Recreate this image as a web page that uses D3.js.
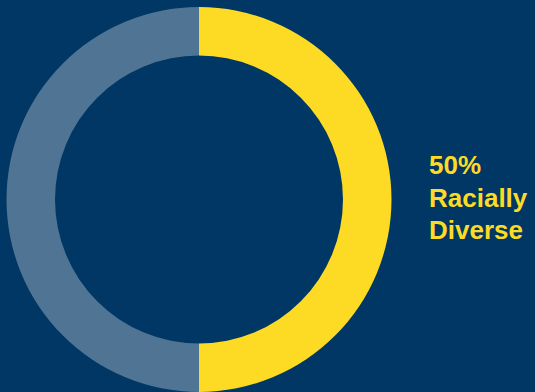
<!DOCTYPE html>
<html>
<head>
<meta charset="utf-8">
<script src="https://cdn.jsdelivr.net/npm/d3@7"></script>
<style>
  html, body { margin: 0; padding: 0; background: #003764; }
  svg { display: block; }
</style>
</head>
<body>
<svg id="chart" width="535" height="392"></svg>
<script>
// Share of racially diverse vs. other
const categories = ["Racially Diverse", "Other"];
const values = [50, 50];
const sliceColors = ["#fddb24", "#507594"];
const labelLines = ["50%", "Racially", "Diverse"];

const svg = d3.select("#chart");
const W = 535, H = 392;
svg.append("rect").attr("width", W).attr("height", H).attr("fill", "#003764");

const cx = 199, cy = 199.5, outerR = 192.5, innerR = 144;

const pie = d3.pie().sort(null).value(d => d.value);
const arc = d3.arc().innerRadius(innerR).outerRadius(outerR);
const data = categories.map((c, i) => ({ name: c, value: values[i] }));

const color = d3.scaleOrdinal().domain(categories).range(sliceColors);

svg.append("g")
  .attr("transform", `translate(${cx},${cy})`)
  .selectAll("path")
  .data(pie(data))
  .join("path")
  .attr("d", arc)
  .attr("fill", d => color(d.data.name));

// Label beside the ring
const label = svg.append("text")
  .attr("x", 429)
  .attr("font-family", "'Liberation Sans', Arial, Helvetica, sans-serif")
  .attr("font-weight", "bold")
  .attr("font-size", 26)
  .attr("fill", sliceColors[0]);

label.selectAll("tspan")
  .data(labelLines)
  .join("tspan")
  .attr("x", 429)
  .attr("y", (d, i) => 174 + i * 32.5)
  .text(d => d);
</script>
</body>
</html>
